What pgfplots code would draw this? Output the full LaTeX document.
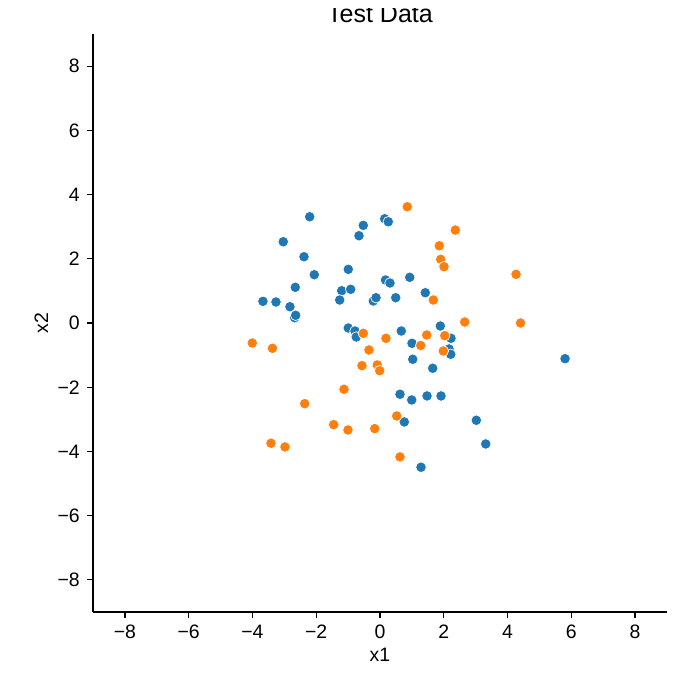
\documentclass[border=0pt]{standalone}
\usepackage{pgfplots}
\pgfplotsset{compat=1.18}
\usepackage{fontspec}
\setmainfont{Liberation Sans}
\definecolor{tabblue}{HTML}{1F77B4}
\definecolor{taborange}{HTML}{FF7F0E}
\begin{document}
\begin{tikzpicture}
\begin{axis}[
  name=ax, at={(0,0)}, anchor=south west,
  scale only axis, width=413.3pt, height=416.2pt,
  xmin=-9, xmax=9, ymin=-9, ymax=9,
  axis x line*=bottom, axis y line*=left,
  axis line style={line width=0.9pt, black},
  tick align=outside, major tick length=4pt,
  tick style={line width=0.9pt, black},
  xtick={-8,-6,-4,-2,0,2,4,6,8},
  ytick={-8,-6,-4,-2,0,2,4,6,8},
  xticklabels={−8,−6,−4,−2,0,2,4,6,8},
  yticklabels={−8,−6,−4,−2,0,2,4,6,8},
  tick label style={font=\fontsize{14pt}{16pt}\selectfont},
  xticklabel style={yshift=-2pt},
  yticklabel style={xshift=-2pt},
  label style={font=\fontsize{14pt}{16pt}\selectfont},
  xlabel={x1}, ylabel={x2},
  clip=false,
]
\addplot[only marks, mark=*, mark size=3.8pt, mark options={fill=tabblue, draw=white, line width=0.5pt}] coordinates {
(-2.205,3.309) (-0.524,3.041) (-0.659,2.718) (0.147,3.247) (0.260,3.153)
(-3.034,2.531) (-2.384,2.064) (-2.061,1.504) (-2.657,1.111) (-3.671,0.675)
(-3.263,0.654) (-2.824,0.507) (-2.676,0.165) (-2.645,0.240) (-0.995,1.672)
(-1.202,1.005) (-0.919,1.049) (-1.264,0.716) (-0.210,0.685) (-0.125,0.788)
(0.173,1.339) (0.314,1.245) (0.932,1.423) (1.421,0.943) (0.493,0.788)
(-0.995,-0.156) (-0.784,-0.249) (-0.744,-0.436) (0.668,-0.249) (1.892,-0.093)
(2.227,-0.476) (1.004,-0.632) (2.165,-0.809) (2.218,-0.974) (1.026,-1.130)
(1.653,-1.410) (0.627,-2.219) (0.995,-2.397) (1.475,-2.272) (1.914,-2.272)
(0.762,-3.082) (3.021,-3.029) (3.316,-3.767) (1.286,-4.492) (5.804,-1.111)
};
\addplot[only marks, mark=*, mark size=3.8pt, mark options={fill=taborange, draw=white, line width=0.5pt}] coordinates {
(0.856,3.620) (2.362,2.895) (1.860,2.406) (1.904,1.983) (2.008,1.753)
(4.267,1.516) (1.672,0.716) (2.657,0.031) (4.408,0.000) (1.465,-0.374)
(2.030,-0.395) (0.188,-0.476) (-0.524,-0.321) (1.277,-0.700) (1.986,-0.872)
(-0.345,-0.840) (-0.565,-1.329) (-0.085,-1.307) (-0.009,-1.485) (-1.129,-2.064)
(-2.362,-2.512) (-1.453,-3.166) (-1.004,-3.331) (-0.166,-3.290) (-3.420,-3.745)
(-2.980,-3.860) (-4.006,-0.623) (-3.373,-0.788) (0.524,-2.895) (0.627,-4.171)
};
\end{axis}
\begin{scope}
\clip (-67pt,400pt) rectangle (422.7pt,434.9pt);
\node[anchor=base, font=\fontsize{18pt}{21pt}\selectfont] at ([yshift=8.2pt]ax.north) {Test Data};
\end{scope}
\pgfresetboundingbox
\path (-67pt,-47.5pt) rectangle (422.7pt,440.7pt);
\end{tikzpicture}
\end{document}
